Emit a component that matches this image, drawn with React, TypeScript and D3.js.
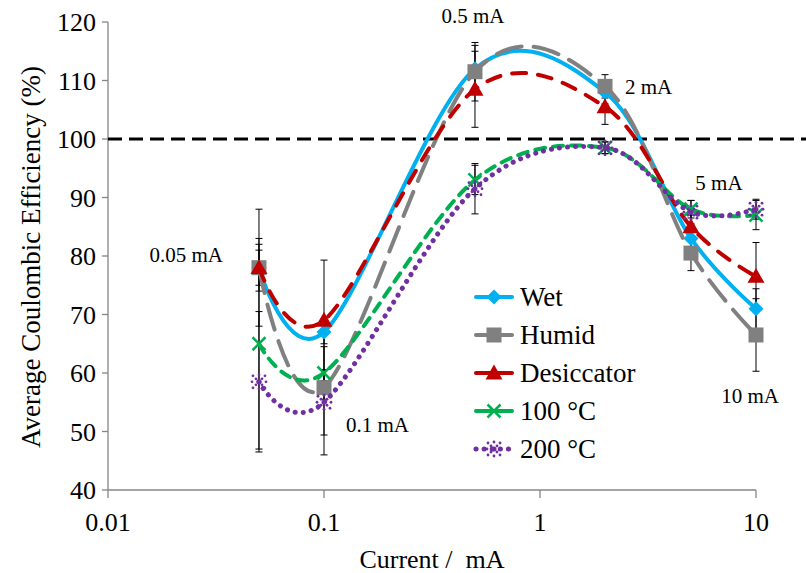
import React from "react";
import * as d3 from "d3";

const currents = [0.05, 0.1, 0.5, 2, 5, 10];
const wet = [78, 67, 112, 108, 83, 71];
const humid = [78, 57.5, 111.5, 109, 80.5, 66.5];
const desiccator = [78, 69, 108.5, 105.5, 85, 76.5];
const c100 = [65, 60, 93, 98.5, 88, 87];
const c200 = [58.5, 55, 91.5, 98.5, 87.5, 88];

const wetErr = [4, 2, 4, 2, 2, 3.4];
const humidErr = [10, 11.5, 5, 2, 3, 6.2];
const desiccatorErr = [3, 10.3, 6.5, 3, 2, 5.8];
const c100Err = [18, 4.5, 2.5, 1, 1.5, 2.5];
const c200Err = [12, 5.6, 4.3, 1, 2, 1.7];

const xTicks = [0.01, 0.1, 1, 10];
const yTicks = [40, 50, 60, 70, 80, 90, 100, 110, 120];
const pointLabels = ["0.05 mA", "0.1 mA", "0.5 mA", "2 mA", "5 mA", "10 mA"];

type Series = {
  name: string;
  values: number[];
  err: number[];
  color: string;
  dash: string;
  marker: string;
};

const series: Series[] = [
  { name: "Wet", values: wet, err: wetErr, color: "#00B0F0", dash: "", marker: "diamond" },
  { name: "Humid", values: humid, err: humidErr, color: "#808080", dash: "26 12", marker: "square" },
  { name: "Desiccator", values: desiccator, err: desiccatorErr, color: "#C00000", dash: "14 12", marker: "triangle" },
  { name: "100 °C", values: c100, err: c100Err, color: "#00B050", dash: "10 8", marker: "x" },
  { name: "200 °C", values: c200, err: c200Err, color: "#7030A0", dash: "0.1 8", marker: "star" },
];

const FONT = "'Liberation Serif', 'Times New Roman', serif";

function Marker({ type, x, y, color }: { type: string; x: number; y: number; color: string }) {
  if (type === "diamond") {
    const s = 7.5;
    return <path d={`M${x},${y - s}L${x + s},${y}L${x},${y + s}L${x - s},${y}Z`} fill={color} />;
  }
  if (type === "square") {
    const s = 7.5;
    return <rect x={x - s} y={y - s} width={2 * s} height={2 * s} fill={color} />;
  }
  if (type === "triangle") {
    const s = 8.5;
    return <path d={`M${x},${y - s}L${x + s},${y + s * 0.75}L${x - s},${y + s * 0.75}Z`} fill={color} />;
  }
  if (type === "x") {
    const s = 6.5;
    return (
      <path d={`M${x - s},${y - s}L${x + s},${y + s}M${x + s},${y - s}L${x - s},${y + s}`} stroke={color} strokeWidth={2.5} />
    );
  }
  const dots: [number, number][] = [
    [0, 0], [-6, -6], [6, -6], [-6, 6], [6, 6], [0, -7], [0, 7], [-7, 0], [7, 0], [-3, -3], [3, 3], [3, -3], [-3, 3],
  ];
  return (
    <g fill={color}>
      {dots.map(([dx, dy], i) => (
        <circle key={i} cx={x + dx} cy={y + dy} r={i === 0 ? 2.5 : 1.4} />
      ))}
    </g>
  );
}

export default function App() {
  const W = 806;
  const H = 573;
  const x = d3.scaleLog().domain([0.01, 10]).range([108, 756]);
  const y = d3.scaleLinear().domain([40, 120]).range([490, 22]);
  const line = d3
    .line<number>()
    .x((_, i) => x(currents[i]))
    .y((d) => y(d))
    .curve(d3.curveCardinal.tension(0));

  const legendX = 476;
  const legendY0 = 297;
  const legendDy = 38;

  const labelPos: [number, number, string][] = [
    [0.05, 80, "end"],
    [0.1, 51.2, "start"],
    [0.5, 120.8, "middle"],
    [2, 109, "start"],
    [5, 92.5, "middle"],
    [10, 56.2, "middle"],
  ];
  const labelOffsets: [number, number][] = [
    [-36, -1],
    [22, 0],
    [-2, -2],
    [20, 0],
    [28, 0],
    [-6, 0],
  ];

  return (
    <svg width={W} height={H} style={{ position: "absolute", left: 0, top: 0, background: "#fff", fontFamily: FONT }}>
      <rect width={W} height={H} fill="#fff" />
      <line x1={x(0.01)} x2={x(0.01)} y1={y(120)} y2={y(40)} stroke="#868686" strokeWidth={1.3} />
      <line x1={x(0.01)} x2={x(10)} y1={y(40)} y2={y(40)} stroke="#868686" strokeWidth={1.3} />
      {yTicks.map((t) => (
        <g key={t}>
          <line x1={x(0.01) - 6} x2={x(0.01)} y1={y(t)} y2={y(t)} stroke="#868686" strokeWidth={1.3} />
          <text x={96} y={y(t)} dy="0.35em" textAnchor="end" fontSize={26}>
            {t}
          </text>
        </g>
      ))}
      {xTicks.map((t) => (
        <g key={t}>
          <line x1={x(t)} x2={x(t)} y1={y(40)} y2={y(40) + 8} stroke="#868686" strokeWidth={1.3} />
          <text x={x(t)} y={531} textAnchor="middle" fontSize={26}>
            {t}
          </text>
        </g>
      ))}
      <text x={432} y={568} textAnchor="middle" fontSize={26} style={{ whiteSpace: "pre" }}>
        {"Current /  mA"}
      </text>
      <text transform={`translate(40,${257}) rotate(-90)`} textAnchor="middle" fontSize={27}>
        Average Coulombic Efficiency (%)
      </text>

      <line x1={x(0.01)} x2={W} y1={y(100)} y2={y(100)} stroke="#000" strokeWidth={3} strokeDasharray="14 7" />

      {series.map((s) =>
        s.values.map((v, i) => {
          const cx = x(currents[i]);
          const e = s.err[i];
          return (
            <g key={s.name + i} stroke="#000" strokeWidth={1}>
              <line x1={cx} x2={cx} y1={y(v + e)} y2={y(v - e)} />
              <line x1={cx - 3.5} x2={cx + 3.5} y1={y(v + e)} y2={y(v + e)} />
              <line x1={cx - 3.5} x2={cx + 3.5} y1={y(v - e)} y2={y(v - e)} />
            </g>
          );
        })
      )}

      {series.map((s) => (
        <g key={s.name}>
          <path
            d={line(s.values) || ""}
            fill="none"
            stroke={s.color}
            strokeWidth={s.marker === "star" ? 5 : 4}
            strokeDasharray={s.dash || undefined}
            strokeLinecap="round"
          />
          {s.values.map((v, i) => (
            <Marker key={i} type={s.marker} x={x(currents[i])} y={y(v)} color={s.color} />
          ))}
        </g>
      ))}

      {pointLabels.map((lab, i) => {
        const [c, v, anchor] = labelPos[i];
        const [dx, dy] = labelOffsets[i];
        return (
          <text key={lab} x={x(c) + dx} y={y(v) + dy} dy="0.35em" textAnchor={anchor as any} fontSize={21}>
            {lab}
          </text>
        );
      })}

      {series.map((s, i) => {
        const ly = legendY0 + i * legendDy;
        return (
          <g key={"lg" + s.name}>
            <line
              x1={legendX}
              x2={legendX + 36}
              y1={ly}
              y2={ly}
              stroke={s.color}
              strokeWidth={s.marker === "star" ? 5 : 4}
              strokeDasharray={s.marker === "star" ? "0.1 8" : undefined}
              strokeLinecap="round"
            />
            <Marker type={s.marker} x={legendX + 18} y={ly} color={s.color} />
            <text x={legendX + 44} y={ly} dy="0.35em" fontSize={27}>
              {s.name}
            </text>
          </g>
        );
      })}
    </svg>
  );
}
